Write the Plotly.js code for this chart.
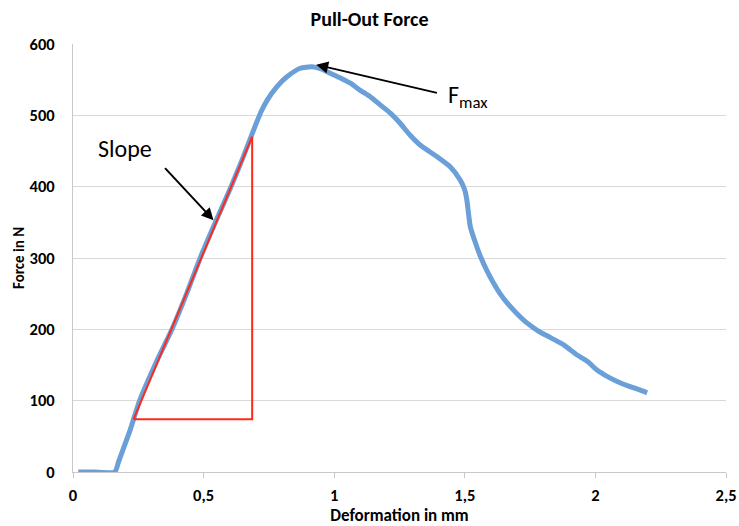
<!DOCTYPE html>
<html>
<head>
<meta charset="utf-8">
<script src="https://cdn.plot.ly/plotly-3.0.1.min.js"></script>
<style>html,body{margin:0;padding:0;background:#fff;}#chart{width:739px;height:526px;}</style>
</head>
<body>
<div id="chart"></div>
<script>
// Measured pull-out curve (deformation in mm, force in N)
var deformation = [0.02,0.08,0.16,0.175,0.195,0.219,0.255,0.32,0.379,0.435,0.487,0.545,0.605,0.65,0.691,0.72,0.743,0.78,0.819,0.87,0.915,0.95,0.985,1.02,1.062,1.10,1.138,1.175,1.215,1.25,1.291,1.33,1.394,1.444,1.483,1.50,1.508,1.515,1.521,1.54,1.56,1.585,1.61,1.635,1.662,1.70,1.738,1.78,1.83,1.88,1.93,1.97,2.006,2.05,2.083,2.13,2.17,2.198];
var force = [0,0,0,15,35,59,100,155,200,250,300,350,400,440,479,505,521,540,554,566,568,565,559,553,545,535,526,515,503,490,472,458,442,428,409,395,381,360,344,322,302,282,265,250,237,222,209,198,188,178,164,155,143,133,127,120,115,111];
// Slope triangle
var slopeX = [0.232,0.686,0.686,0.232];
var slopeY = [74,470,74,74];
// Annotation anchors
var fmaxPoint = [0.931,571], fmaxTail = [1.399,531];
var slopePoint = [0.538,353], slopeTail = [0.347,428];
var xTicks = [0,0.5,1,1.5,2,2.5];
var xTickText = ['0','0,5','1','1,5','2','2,5'];
var yTicks = [0,100,200,300,400,500,600];

var font = 'Carlito, "Open Sans", "Liberation Sans", sans-serif';
var traces = [
  {x: deformation, y: force, type: 'scatter', mode: 'lines',
   line: {color: '#6a9fd8', width: 5, shape: 'spline', smoothing: 0.6}, hoverinfo: 'skip'},
  {x: slopeX, y: slopeY, type: 'scatter', mode: 'lines',
   line: {color: '#ff2a1a', width: 2}, hoverinfo: 'skip'}
];
var layout = {
  width: 739, height: 526,
  margin: {l: 73, r: 13, t: 44, b: 54},
  paper_bgcolor: '#ffffff', plot_bgcolor: '#ffffff',
  showlegend: false,
  separators: ',.',
  font: {family: font, color: '#000'},
  title: {text: '<b>Pull-Out Force</b>', font: {size: 20, family: font, color: '#000'},
          x: 0.5, xanchor: 'center', y: 0.963, yanchor: 'middle', xref: 'container', yref: 'container'},
  xaxis: {range: [0, 2.5], tickvals: xTicks, ticktext: xTickText,
          showgrid: false, zeroline: false,
          showline: true, linecolor: '#c8c8c8', linewidth: 1,
          ticks: 'outside', ticklen: 5, tickcolor: '#c8c8c8',
          tickfont: {size: 16.5, family: font, color: '#000', weight: 'bold'},
          ticklabelstandoff: 3,
          title: {text: '<b>Deformation in mm</b>', font: {size: 17, family: font, color: '#000'}, standoff: 4}},
  yaxis: {range: [0, 600], tickvals: yTicks,
          showgrid: true, gridcolor: '#d9d9d9', gridwidth: 1,
          zeroline: false, showline: true, linecolor: '#c8c8c8', linewidth: 1,
          ticks: '', tickfont: {size: 16.5, family: font, color: '#000', weight: 'bold'},
          ticklabelstandoff: 14,
          title: {text: '<b>Force in N</b>', font: {size: 15, family: font, color: '#000'}, standoff: 1}},
  annotations: [
    {x: fmaxPoint[0], y: fmaxPoint[1], ax: fmaxTail[0], ay: fmaxTail[1], axref: 'x', ayref: 'y',
     xref: 'x', yref: 'y', text: '', showarrow: true, arrowhead: 2, arrowsize: 1.2, arrowwidth: 2, arrowcolor: '#000'},
    {x: slopePoint[0], y: slopePoint[1], ax: slopeTail[0], ay: slopeTail[1], axref: 'x', ayref: 'y',
     xref: 'x', yref: 'y', text: '', showarrow: true, arrowhead: 2, arrowsize: 1.2, arrowwidth: 2, arrowcolor: '#000'},
    {x: 0.20, y: 453, xref: 'x', yref: 'y', text: 'Slope', showarrow: false,
     xanchor: 'center', yanchor: 'middle', font: {size: 24, family: font, color: '#000'}},
    {x: 1.428, y: 527, xref: 'x', yref: 'y', text: 'F<sub>max</sub>', showarrow: false,
     xanchor: 'left', yanchor: 'middle', font: {size: 24, family: font, color: '#000'}}
  ]
};
Plotly.newPlot('chart', traces, layout, {displayModeBar: false, staticPlot: true});
</script>
</body>
</html>
